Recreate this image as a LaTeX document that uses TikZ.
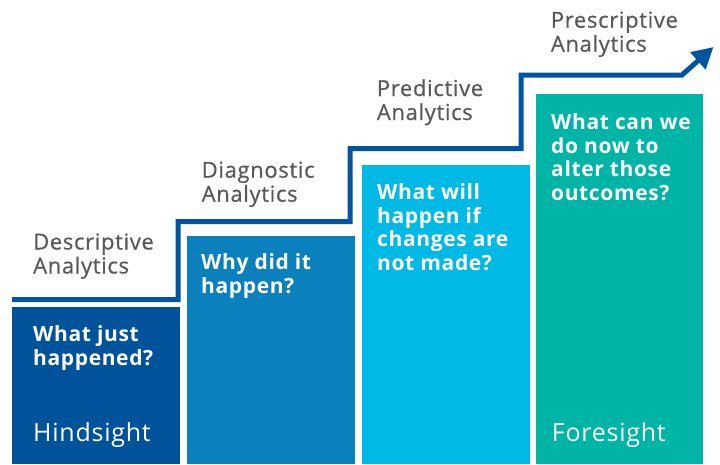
\documentclass[tikz,border=0pt]{standalone}
\usepackage{fontspec}
\setmainfont{Open Sans}
\newfontfamily\spacedfont[LetterSpace=3]{Open Sans}
\newfontfamily\labelfont[LetterSpace=3,FakeBold=0.6]{Open Sans}
\usetikzlibrary{arrows.meta}
\definecolor{c1}{HTML}{00529B}
\definecolor{c2}{HTML}{0A80BC}
\definecolor{c3}{HTML}{00B9E4}
\definecolor{c4}{HTML}{00B5A5}
\definecolor{lbl}{HTML}{595959}
\definecolor{stair}{HTML}{0055A0}
\begin{document}
\begin{tikzpicture}[x=1pt,y=-1pt,
  col/.style={fill=#1, draw=none, inner sep=0pt, anchor=north west, minimum width=168pt},
  lab/.style={anchor=base west, inner sep=0pt, align=left, text=lbl, font=\labelfont\fontsize{22}{24}\selectfont},
  q/.style={anchor=base west, inner sep=0pt, align=left, text=white, font=\spacedfont\bfseries\fontsize{21}{23.5}\selectfont},
  big/.style={anchor=base west, inner sep=0pt, text=white, font=\spacedfont\fontsize{25}{28}\selectfont}]
\useasboundingbox (0,0) rectangle (720,464);
\node[col=c1, minimum height=157pt] (b1) at (12,307) {};
\node[col=c2, minimum height=228pt] (b2) at (187,236) {};
\node[col=c3, minimum height=299pt] (b3) at (362,165) {};
\node[col=c4, minimum height=370pt, minimum width=167pt] (b4) at (536,94) {};
\coordinate (s0) at (12,299.5);
\coordinate (s1) at (178,299.5);
\coordinate (s2) at (178,221.5);
\coordinate (s3) at (350,221.5);
\coordinate (s4) at (350,148.5);
\coordinate (s5) at (521,148.5);
\coordinate (s6) at (521,75);
\coordinate (s7) at (682,75);
\coordinate (s8) at (713.5,47);
\draw[stair, line width=5pt, -{Triangle[length=21pt,width=22pt]}]
  (s0) -- (s1) -- (s2) -- (s3) -- (s4) -- (s5) -- (s6) -- (s7) -- (s8);
\node[lab] (l1) at (33,273.5) {Descriptive\\Analytics};
\node[lab] (l2) at (201.5,201.7) {Diagnostic\\Analytics};
\node[lab] (l3) at (376.7,120) {Predictive\\Analytics};
\node[lab] (l4) at (550.7,51.7) {Prescriptive\\Analytics};
\node[q] (q1) at (33,365) {What just\\happened?};
\node[q] (q2) at (201,293.3) {Why did it\\happen?};
\node[q] (q3) at (377,270) {What will\\happen if\\changes are\\not made?};
\node[q] (q4) at (551,200) {What can we\\do now to\\alter those\\outcomes?};
\node[big] (h) at (33,441.7) {Hindsight};
\node[big] (f) at (551.7,441.7) {Foresight};
\end{tikzpicture}
\end{document}
